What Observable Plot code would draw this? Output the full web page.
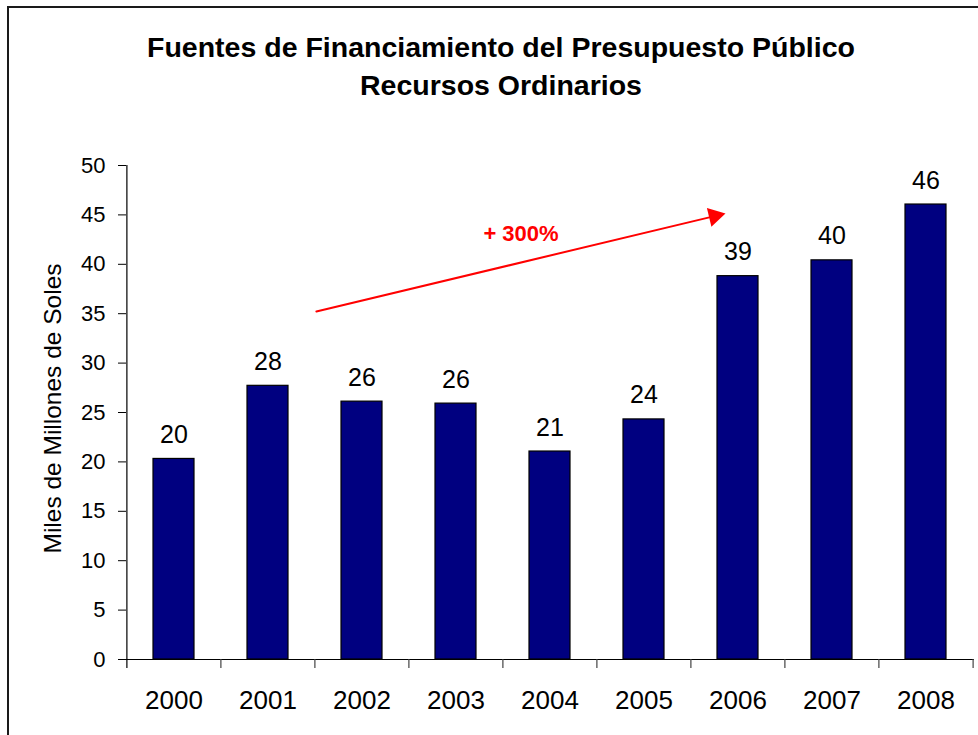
<!DOCTYPE html>
<html>
<head>
<meta charset="utf-8">
<script src="https://cdn.jsdelivr.net/npm/d3@7"></script>
<script src="https://cdn.jsdelivr.net/npm/@observablehq/plot@0.6"></script>
<style>
  html, body { margin: 0; padding: 0; background: #fff; }
  #wrap { position: relative; width: 978px; height: 735px; overflow: hidden; font-family: "Liberation Sans", Arial, sans-serif; }
  #frame { position: absolute; left: 7px; top: 6px; width: 1000px; height: 800px; border-left: 2px solid #1a1a1a; border-top: 2px solid #1a1a1a; }
  #title { position: absolute; left: 0; top: 28.3px; width: 1002px; text-align: center; font-weight: bold; font-size: 28.5px; line-height: 38px; color: #000; }
  #chart { position: absolute; left: 0; top: 0; }
</style>
</head>
<body>
<div id="wrap">
  <div id="frame"></div>
  <div id="chart"></div>
  <div id="title">Fuentes de Financiamiento del Presupuesto Público<br>Recursos Ordinarios</div>
</div>
<script>
// ---- data ----
const years = ["2000", "2001", "2002", "2003", "2004", "2005", "2006", "2007", "2008"];
const values = [20.3, 27.7, 26.1, 25.9, 21.05, 24.3, 38.8, 40.4, 46.05];
const valueLabels = ["20", "28", "26", "26", "21", "24", "39", "40", "46"];
const yTicks = [0, 5, 10, 15, 20, 25, 30, 35, 40, 45, 50];
const yLabel = "Miles de Millones de Soles";
const growthLabel = "+ 300%";
// growth arrow (data space: from 2002 to 2006)
const arrowFrom = {year: "2002", value: 35.22};
const arrowTo = {year: "2006", value: 44.34};
const arrowHead = {year: "2006", value: 44.88};
const growthPos = {year: "2004", value: 42.34};

const rows = years.map((y, i) => ({year: y, value: values[i], label: valueLabels[i]}));

const W = 978, H = 735;
const mL = 126, mR = 4, mT = 165, mB = 76;
const step = (W - mL - mR) / years.length;

const chart = Plot.plot({
  width: W,
  height: H,
  marginLeft: mL,
  marginRight: mR,
  marginTop: mT,
  marginBottom: mB,
  style: {fontFamily: "'Liberation Sans', Arial, sans-serif", fontSize: "22px", color: "#000", background: "transparent"},
  x: {type: "band", domain: years, paddingInner: 0.56, paddingOuter: 0.28, axis: null},
  y: {domain: [0, 50], axis: null},
  marks: [
    Plot.barY(rows, {x: "year", y: "value", fill: "#000080", stroke: "#000", strokeWidth: 1.2}),
    Plot.text(rows, {x: "year", y: "value", text: "label", lineAnchor: "bottom", dy: -16, fontSize: 25, fill: "#000"}),
    // axes
    Plot.axisY({ticks: yTicks, tickSize: 8, tickPadding: 13, fontSize: 22, label: null, stroke: "#000"}),
    Plot.axisX({tickSize: 0, tickPadding: 31, fontSize: 26, label: null}),
    Plot.ruleY([0], {stroke: "#000", strokeWidth: 1.2}),
    Plot.ruleX([years[0]], {x: d => d, y1: 50, y2: 0, dx: -step / 2, insetBottom: -9, stroke: "#000", strokeWidth: 1.2}),
    Plot.ruleX(years.slice(1), {x: d => d, y1: 0, y2: 0, dx: -step / 2, insetBottom: -9, stroke: "#444", strokeWidth: 1.2}),
    Plot.ruleX([years[years.length - 1]], {x: d => d, y1: 0, y2: 0, dx: step / 2, insetBottom: -9, stroke: "#444", strokeWidth: 1.2}),
    // y label
    Plot.text([yLabel], {frameAnchor: "left", textAnchor: "middle", rotate: -90, dx: -73, dy: -4, fontSize: 24.5, fill: "#000"}),
    // growth arrow
    Plot.arrow([0], {x1: () => arrowFrom.year, y1: () => arrowFrom.value, x2: () => arrowTo.year, y2: () => arrowTo.value,
      dx: -45.6, insetEnd: -26, headLength: 0, stroke: "#ff0000", strokeWidth: 2}),
    Plot.dot([arrowHead], {x: "year", y: "value", dx: -23.4, symbol: "triangle", r: 7.2, rotate: 76.6, fill: "#ff0000", stroke: "none"}),
    Plot.text([growthPos], {x: "year", y: "value", text: () => growthLabel, dx: -29, lineAnchor: "bottom", fontSize: 22, fontWeight: "bold", fill: "#ff0000"})
  ]
});
document.getElementById("chart").appendChild(chart);
</script>
</body>
</html>
